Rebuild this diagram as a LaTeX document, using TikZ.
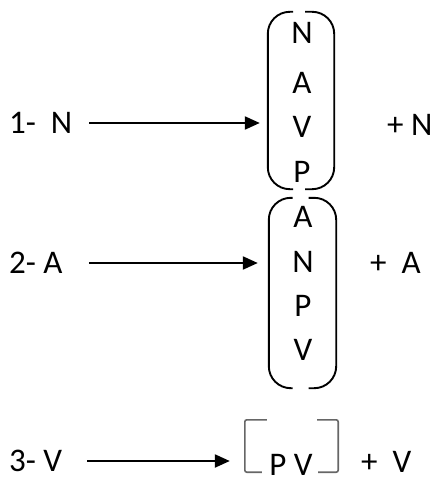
\documentclass[tikz,border=0pt]{standalone}
\usepackage{fontspec}
\setmainfont{Carlito}
\usetikzlibrary{positioning, arrows.meta, calc}

\begin{document}
\begin{tikzpicture}[x=1bp, y=-1bp,
    every node/.style={font=\fontsize{33bp}{39bp}\selectfont, inner sep=0pt},
    grp/.style={minimum width=#1, inner sep=0pt},
    flow/.style={-{Triangle[length=15bp,width=13bp]}, line width=2.2bp},
    paren/.style={line width=1.9bp, rounded corners=22bp},
    sqbr/.style={line width=1.6bp, draw=black!60, rounded corners=2bp}]
  \useasboundingbox (0,0) rectangle (440,481);
  % --- left column: numbered categories ---
  \node[anchor=west] (n1) at (9,123) {1-~~N};
  \node[anchor=west] (n2) at (9,263) {2-~A};
  \node[anchor=west] (n3) at (9,461) {3-~V};
  % --- bracket groups (empty boxes, used for arrows and brackets) ---
  \node[grp=66bp, minimum height=177bp] (g1) at (301,100.5) {};
  \node[grp=67bp, minimum height=190bp] (g2) at (302.5,293) {};
  \node[grp=93bp, minimum height=52bp]  (g3) at (291.5,446) {};
  \foreach \l/\y in {N/33, A/83, V/127, P/172}
    \node (a\l) at (302,\y) {\l};
  \foreach \l/\y in {A/217, N/262, P/306, V/350}
    \node (b\l) at (303,\y) {\l};
  \node (pv) at (291,465) {P V};
  % --- round brackets ---
  \draw[paren] ($(g1.north)+(-8,0)$) -- (g1.north west) -- (g1.south west) -- ($(g1.south)+(-8,0)$);
  \draw[paren] ($(g1.north)+(4,0)$) -- (g1.north east) -- (g1.south east) -- ($(g1.south)+(4,0)$);
  \draw[paren] ($(g2.north)+(-10,0)$) -- (g2.north west) -- (g2.south west) -- ($(g2.south)+(-10,0)$);
  \draw[paren] ($(g2.north)+(6,0)$) -- (g2.north east) -- (g2.south east) -- ($(g2.south)+(6,0)$);
  % --- square brackets ---
  \draw[sqbr] ($(g3.north west)+(22,0)$) -- (g3.north west) -- (g3.south west) -- ($(g3.south west)+(17,0)$);
  \draw[sqbr] ($(g3.north east)+(-21,0)$) -- (g3.north east) -- (g3.south east) -- ($(g3.south east)+(-20,0)$);
  % --- right column: added category ---
  \node[anchor=west] (r1) at (387,125) {+ N};
  \node[anchor=west] (r2) at (370,263) {+~~A};
  \node[anchor=west] (r3) at (361,462) {+~~V};
  % --- arrows ---
  \draw[flow] ([xshift=17bp]n1.east) -- ([xshift=-8bp]g1.west |- n1.east);
  \draw[flow] ([xshift=26bp]n2.east) -- ([xshift=-11bp]g2.west |- n2.east);
  \draw[flow] ([xshift=25bp]n3.east) -- ([xshift=-15bp]g3.west |- n3.east);
\end{tikzpicture}
\end{document}
